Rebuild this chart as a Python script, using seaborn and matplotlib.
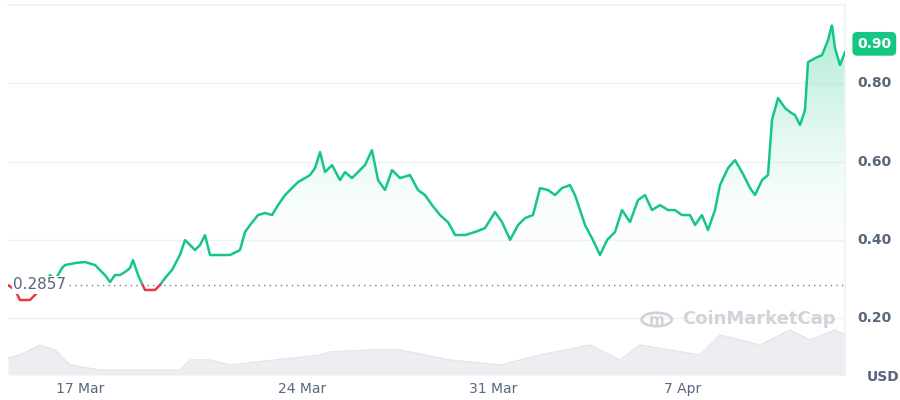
import numpy as np
import pandas as pd
import matplotlib
matplotlib.use("Agg")
import matplotlib.pyplot as plt
from matplotlib.patches import Circle
import seaborn as sns

# price trace: x in days from start, price in USD
px = [8,15,20,30,35,45,50,55,62,65,75,85,95,100,105,110,115,120,125,130,133,138,145,155,160,165,172,180,185,195,200,205,210,220,230,240,245,250,258,265,272,278,285,290,298,305,310,315,320,325,332,340,345,352,360,365,372,378,385,392,400,410,418,425,432,440,448,455,465,475,485,495,502,510,518,525,533,540,548,555,562,570,575,580,585,592,600,607,615,622,630,638,645,652,660,668,675,682,690,695,702,708,715,720,728,735,742,750,755,762,768,772,778,785,790,795,800,805,808,815,822,828,832,835,840,845]
py = [285,290,300,300,295,283,275,280,268,265,263,262,265,270,275,282,275,275,272,268,260,275,290,290,285,278,270,255,240,250,245,235,255,255,255,250,232,225,215,213,215,205,195,190,182,178,175,168,152,172,165,180,172,178,170,165,150,180,190,170,178,175,190,195,205,215,222,235,235,232,228,212,222,240,225,218,215,188,190,195,188,185,195,210,225,238,255,240,232,210,222,200,195,210,205,210,210,215,215,225,215,230,210,185,168,160,172,188,195,180,175,120,98,108,112,115,125,110,62,58,55,40,25,48,65,52]
days = [(x - 8) / 27.1 for x in px]
price = [round(0.80 - (y - 83) * 0.002548, 4) for y in py]

vx = [8,20,40,55,70,100,180,190,210,230,320,330,370,400,450,500,540,590,620,640,700,720,760,790,810,835,845]
vy = [358,355,345,350,365,370,370,360,360,365,355,352,350,350,360,365,355,345,360,345,355,335,345,330,340,330,335]
vdays = [(x - 8) / 27.1 for x in vx]
volume = [375 - y for y in vy]

tick_days = [2.66, 10.85, 17.9, 24.9]
tick_labels = ["17 Mar", "24 Mar", "31 Mar", "7 Apr"]
yticks = [0.20, 0.40, 0.60, 0.80]
base = 0.2857
last = 0.90

sns.set_theme(style="white")
fig = plt.figure(figsize=(9, 4), dpi=100)
ax = fig.add_axes([8/900, 25/400, 837/900, 370/400])
ymin, ymax = 0.056, 0.999

# volume
axv = ax.twinx()
axv.fill_between(vdays, 0, volume, color="#eceef2", lw=0, zorder=0)
axv.plot(vdays, volume, color="#e3e5ea", lw=1)
axv.set_ylim(0, 370)
axv.set_yticks([])
for s in axv.spines.values():
    s.set_visible(False)
ax.set_zorder(axv.get_zorder() + 1)
ax.patch.set_visible(False)

# gradient fill
d = np.array(days); p = np.array(price)
grad = np.linspace(0, 1, 256).reshape(-1, 1)
cmap = matplotlib.colors.LinearSegmentedColormap.from_list("g", [(1, 1, 1, 0), (0.09, 0.78, 0.52, 0.42)])
im = ax.imshow(grad, extent=[d.min(), d.max(), base, ymax], origin="lower", aspect="auto", cmap=cmap, zorder=1)
poly = ax.fill_between(d, np.maximum(p, base), base, color="none", lw=0)
im.set_clip_path(poly.get_paths()[0], transform=ax.transData)

# line, green above base, red below
dd = np.linspace(d.min(), d.max(), 3000)
pp = np.interp(dd, d, p)
up = np.where(pp >= base, pp, np.nan)
dn = np.where(pp < base, pp, np.nan)
sns.lineplot(x=dd, y=pp, ax=ax, color="#16c784", lw=0, zorder=0)
ax.plot(dd, up, color="#16c784", lw=1.8, zorder=3)
ax.plot(dd, dn, color="#ea3943", lw=1.8, zorder=3)

ax.axhline(base, color="#7a7f8a", ls=(0, (1, 3)), lw=1, zorder=2)
ax.text(0.2, base, "0.2857", fontsize=11, color="#58667e", va="center", ha="left",
        bbox=dict(facecolor="white", edgecolor="none", pad=1), zorder=4)

ax.set_xlim(d.min(), d.max())
ax.set_ylim(ymin, ymax)
for yt in yticks:
    ax.axhline(yt, color="#eff2f5", lw=1, zorder=0.5)
ax.set_yticks([])
ax.set_xticks(tick_days)
ax.set_xticklabels(tick_labels, color="#58667e", fontsize=10)
ax.tick_params(axis="x", length=0, pad=5)
for yt in yticks:
    ax.text(1.035, (yt - ymin) / (ymax - ymin), f"{yt:.2f}", transform=ax.transAxes,
            ha="center", va="center", color="#58667e", fontsize=10, fontweight="bold")
ax.text(1.035, (last - ymin) / (ymax - ymin), f"{last:.2f}", transform=ax.transAxes,
        ha="center", va="center", color="white", fontsize=10, fontweight="bold",
        bbox=dict(boxstyle="round,pad=0.35", facecolor="#16c784", edgecolor="none"))
ax.text(1.045, -0.005, "USD", transform=ax.transAxes, ha="center", va="center",
        color="#58667e", fontsize=10, fontweight="bold")
ax.text(0.805, 0.15, "CoinMarketCap", transform=ax.transAxes, ha="left", va="center",
        color="#cfd3da", fontsize=13, fontweight="bold", zorder=5)
ax.add_patch(Circle((0.775, 0.15), 0.018, transform=ax.transAxes, facecolor="none",
                    edgecolor="#cfd3da", lw=2, zorder=5))
ax.text(0.775, 0.148, "m", transform=ax.transAxes, ha="center", va="center",
        color="#cfd3da", fontsize=11, fontweight="bold", zorder=5)
for name, s in ax.spines.items():
    s.set_color("#eff2f5")
    s.set_visible(name in ("top", "right"))
fig.savefig("out.png", dpi=100)
